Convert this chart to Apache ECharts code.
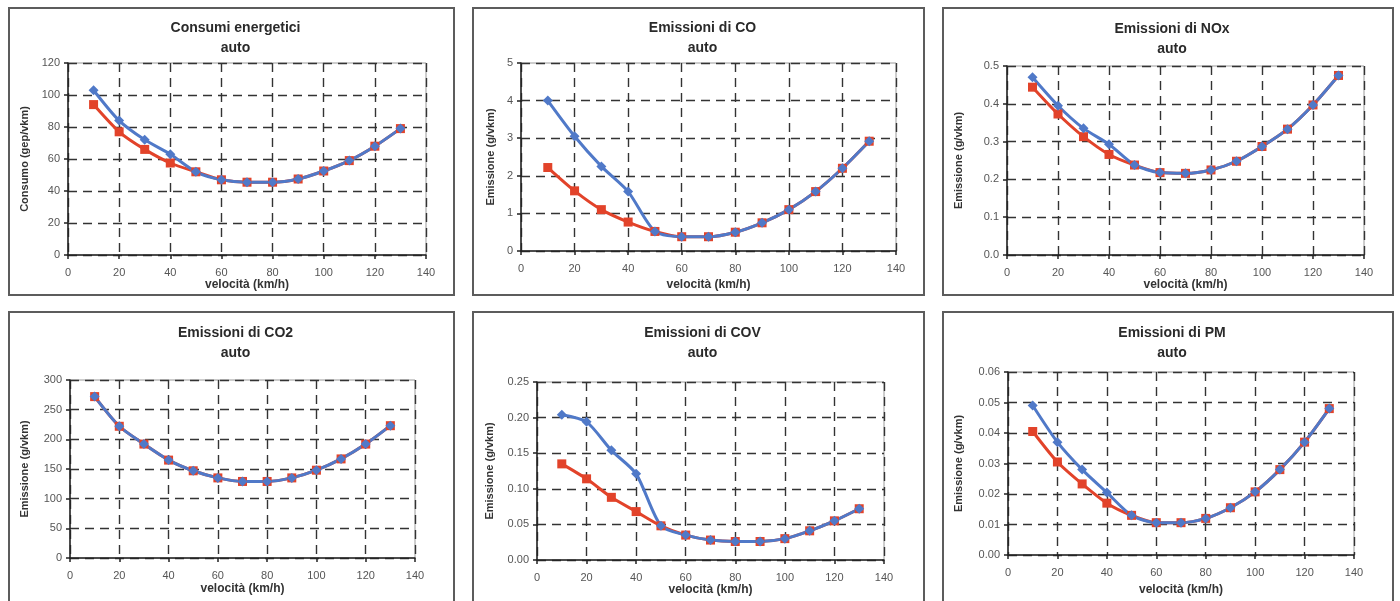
<!DOCTYPE html>
<html>
<head>
<meta charset="utf-8">
<script src="https://cdn.jsdelivr.net/npm/echarts@6/dist/echarts.min.js"></script>
<style>
  html, body { margin: 0; padding: 0; background: #fff; }
  #chart { width: 1400px; height: 601px; }
</style>
</head>
<body>
<div id="chart"></div>
<script>
// velocità (km/h)
var speeds = [10, 20, 30, 40, 50, 60, 70, 80, 90, 100, 110, 120, 130];

// Consumi energetici (gep/vkm)
var consumoBlue = [103, 84, 72, 63, 52, 47, 45.5, 45.5, 47.5, 52.5, 59, 68, 79];
var consumoRed = [94, 77, 66, 57.5, 52, 47, 45.5, 45.5, 47.5, 52.5, 59, 68, 79];

// Emissioni di CO (g/vkm)
var coBlue = [4.0, 3.05, 2.25, 1.58, 0.52, 0.38, 0.38, 0.5, 0.75, 1.1, 1.58, 2.2, 2.92];
var coRed = [2.22, 1.6, 1.1, 0.77, 0.52, 0.38, 0.38, 0.5, 0.75, 1.1, 1.58, 2.2, 2.92];

// Emissioni di NOx (g/vkm)
var noxBlue = [0.47, 0.395, 0.335, 0.293, 0.238, 0.218, 0.216, 0.225, 0.248, 0.287, 0.333, 0.397, 0.475];
var noxRed = [0.444, 0.373, 0.313, 0.266, 0.238, 0.218, 0.216, 0.225, 0.248, 0.287, 0.333, 0.397, 0.475];

// Emissioni di CO2 (g/vkm)
var co2Blue = [272, 222, 192, 165, 147, 135, 129, 129, 135, 148, 167, 192, 223];
var co2Red = [272, 222, 192, 165, 147, 135, 129, 129, 135, 148, 167, 192, 223];

// Emissioni di COV (g/vkm)
var covBlue = [0.204, 0.194, 0.154, 0.121, 0.048, 0.035, 0.028, 0.026, 0.026, 0.030, 0.041, 0.055, 0.072];
var covRed = [0.135, 0.114, 0.088, 0.068, 0.048, 0.035, 0.028, 0.026, 0.026, 0.030, 0.041, 0.055, 0.072];

// Emissioni di PM (g/vkm)
var pmBlue = [0.049, 0.037, 0.028, 0.0205, 0.013, 0.0106, 0.0106, 0.012, 0.0155, 0.0207, 0.028, 0.037, 0.048];
var pmRed = [0.0405, 0.0305, 0.0233, 0.017, 0.013, 0.0106, 0.0106, 0.012, 0.0155, 0.0207, 0.028, 0.037, 0.048];

var xTicks = { min: 0, max: 140, interval: 20 };

var panels = [
  { title: 'Consumi energetici', yName: 'Consumo (gep/vkm)', blue: consumoBlue, red: consumoRed,
    max: 120, interval: 20, digits: 0, box: [9, 8, 445, 287], grid: [68, 63, 358, 192], yGap: 38, xGap: 24, titleTop: 18 },
  { title: 'Emissioni di CO', yName: 'Emissione (g/vkm)', blue: coBlue, red: coRed,
    max: 5, interval: 1, digits: 0, box: [473, 8, 451, 287], grid: [521, 63, 375, 188], yGap: 25, xGap: 28, titleTop: 18 },
  { title: 'Emissioni di NOx', yName: 'Emissione (g/vkm)', blue: noxBlue, red: noxRed,
    max: 0.5, interval: 0.1, digits: 1, box: [943, 8, 450, 287], grid: [1007, 66, 357, 189], yGap: 43, xGap: 22, titleTop: 19 },
  { title: 'Emissioni di CO2', yName: 'Emissione (g/vkm)', blue: co2Blue, red: co2Red,
    max: 300, interval: 50, digits: 0, box: [9, 312, 445, 300], grid: [70, 380, 345, 178], yGap: 40, xGap: 25, titleTop: 323 },
  { title: 'Emissioni di COV', yName: 'Emissione (g/vkm)', blue: covBlue, red: covRed,
    max: 0.25, interval: 0.05, digits: 2, box: [473, 312, 451, 300], grid: [537, 382, 347, 178], yGap: 42, xGap: 23, titleTop: 323 },
  { title: 'Emissioni di PM', yName: 'Emissione (g/vkm)', blue: pmBlue, red: pmRed,
    max: 0.06, interval: 0.01, digits: 2, box: [943, 312, 450, 300], grid: [1008, 372, 346, 183], yGap: 44, xGap: 29, titleTop: 323 }
];

var font = 'Liberation Sans, Arial, sans-serif';
var dashed = { type: [9, 6], color: '#333', width: 1.4 };

var option = {
  animation: false,
  textStyle: { fontFamily: font },
  title: [], grid: [], xAxis: [], yAxis: [], series: [], graphic: []
};

panels.forEach(function (p, i) {
  option.graphic.push({
    type: 'rect',
    shape: { x: p.box[0], y: p.box[1], width: p.box[2], height: p.box[3] },
    style: { fill: 'none', stroke: '#5c5c5c', lineWidth: 2 },
    silent: true
  });
  option.title.push({
    text: p.title + '\nauto',
    left: p.box[0] + p.box[2] / 2 + 4,
    top: p.titleTop,
    padding: 0,
    textAlign: 'center',
    textStyle: { fontFamily: font, fontSize: 14, fontWeight: 'bold', color: '#2a2a2a', lineHeight: 20 }
  });
  option.grid.push({
    left: p.grid[0], top: p.grid[1], width: p.grid[2], height: p.grid[3],
    show: true, borderColor: '#9a9a9a', borderWidth: 1, backgroundColor: 'transparent'
  });
  option.xAxis.push({
    type: 'value', gridIndex: i,
    min: xTicks.min, max: xTicks.max, interval: xTicks.interval,
    name: 'velocità (km/h)', nameLocation: 'middle', nameGap: p.xGap,
    nameTextStyle: { fontFamily: font, fontSize: 12, fontWeight: 'bold', color: '#333' },
    axisLine: { lineStyle: { color: '#222', width: 1.5 } },
    axisTick: { length: 4, lineStyle: { color: '#222', width: 1.5 } },
    axisLabel: { fontSize: 11, color: '#555', margin: 12 },
    splitLine: { show: true, lineStyle: dashed }
  });
  option.yAxis.push({
    type: 'value', gridIndex: i,
    min: 0, max: p.max, interval: p.interval,
    name: p.yName, nameLocation: 'middle', nameGap: p.yGap, nameRotate: 90,
    nameTextStyle: { fontFamily: font, fontSize: 11, fontWeight: 'bold', color: '#333' },
    axisLine: { show: true, lineStyle: { color: '#222', width: 1.5 } },
    axisTick: { show: true, length: 4, lineStyle: { color: '#222', width: 1.5 } },
    axisLabel: {
      fontSize: 11, color: '#555', margin: 8,
      formatter: function (v) { return v.toFixed(p.digits); }
    },
    splitLine: { show: true, lineStyle: dashed }
  });
  // red first, blue drawn on top
  option.series.push({
    type: 'line', xAxisIndex: i, yAxisIndex: i,
    data: speeds.map(function (s, k) { return [s, p.red[k]]; }),
    smooth: 0.25, symbol: 'rect', symbolSize: 9,
    lineStyle: { color: '#e2432a', width: 3 },
    itemStyle: { color: '#e2432a' }
  });
  option.series.push({
    type: 'line', xAxisIndex: i, yAxisIndex: i,
    data: speeds.map(function (s, k) { return [s, p.blue[k]]; }),
    smooth: 0.25, symbol: 'diamond', symbolSize: 10,
    lineStyle: { color: '#5079c8', width: 3 },
    itemStyle: { color: '#5079c8' }
  });
});

var chart = echarts.init(document.getElementById('chart'), null, { renderer: 'canvas' });
chart.setOption(option);
</script>
</body>
</html>
